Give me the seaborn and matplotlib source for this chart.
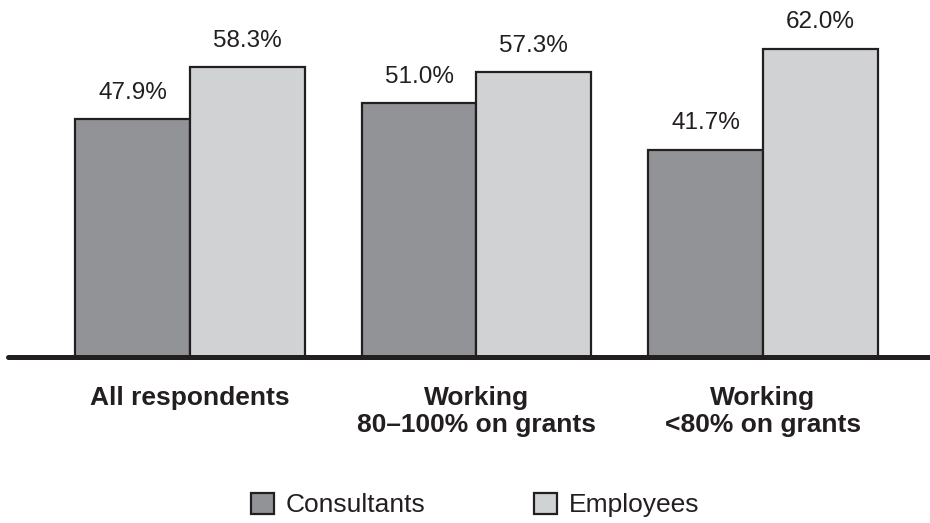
import matplotlib
matplotlib.use("Agg")
import matplotlib.pyplot as plt
import seaborn as sns
import pandas as pd
from matplotlib.patches import Patch

groups = ["All respondents", "Working\n80\u2013100% on grants", "Working\n<80% on grants"]
series = ["Consultants", "Employees"]
consultants = [47.9, 51.0, 41.7]
employees = [58.3, 57.3, 62.0]
colors = ["#929397", "#d1d2d4"]
ink = "#231f20"

df = pd.DataFrame({
    "group": groups * 2,
    "series": [series[0]] * 3 + [series[1]] * 3,
    "value": consultants + employees,
})

sns.set_theme(style="white")
plt.rcParams["font.family"] = ["Liberation Sans", "DejaVu Sans"]

fig = plt.figure(figsize=(9.30, 5.23), dpi=100)
ax = fig.add_axes([8 / 930, 1 - 357 / 523, 1 - 8 / 930, 357 / 523])

sns.barplot(data=df, x="group", y="value", hue="series", order=groups,
            hue_order=series, palette=colors, edgecolor=ink, linewidth=1.6,
            width=0.8, saturation=1, legend=False, ax=ax)

for container in ax.containers:
    ax.bar_label(container, fmt="%.1f%%", padding=11, fontsize=17.5, color=ink)

ax.set_xlim(-0.635, 2.583)
ax.set_ylim(0, 71.8)
ax.axhline(0, color=ink, linewidth=3.6, clip_on=False, zorder=5)
for s in ax.spines.values():
    s.set_visible(False)
ax.set_yticks([])
ax.set_xlabel("")
ax.set_ylabel("")
ax.tick_params(axis="x", length=0, pad=21)
for lbl in ax.get_xticklabels():
    lbl.set_fontsize(19)
    lbl.set_fontweight("bold")
    lbl.set_color(ink)
    lbl.set_verticalalignment("top")
    lbl.set_linespacing(1.15)

handles = [Patch(facecolor=c, edgecolor=ink, linewidth=1.6) for c in colors]
fig.legend(handles, series, loc="center", bbox_to_anchor=(0.511, 1 - 505 / 523),
           ncol=2, frameon=False, fontsize=19, handlelength=0.87, handleheight=0.87,
           handletextpad=0.45, columnspacing=4.1, labelcolor=ink)

fig.savefig("out.png", dpi=100, facecolor="white")
